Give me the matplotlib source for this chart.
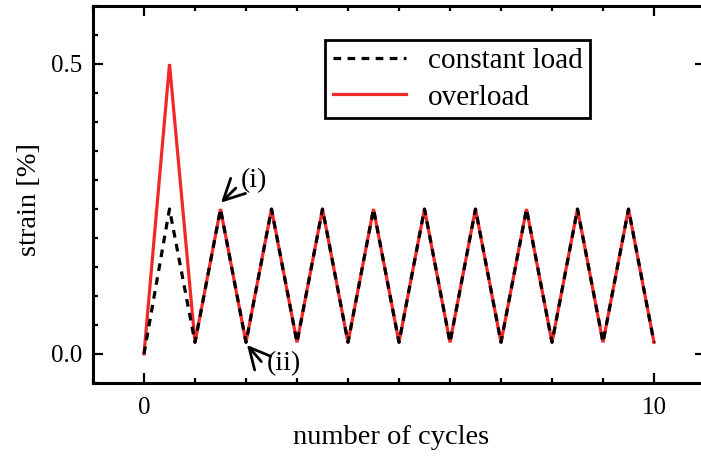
import matplotlib
matplotlib.use("Agg")
import matplotlib.pyplot as plt
from matplotlib.ticker import MultipleLocator, FixedLocator

# ---- data ----
cycles = [0.0, 0.5, 1.0, 1.5, 2.0, 2.5, 3.0, 3.5, 4.0, 4.5, 5.0,
          5.5, 6.0, 6.5, 7.0, 7.5, 8.0, 8.5, 9.0, 9.5, 10.0]
constant_load = [0.0, 0.25, 0.02, 0.25, 0.02, 0.25, 0.02, 0.25, 0.02, 0.25, 0.02,
                 0.25, 0.02, 0.25, 0.02, 0.25, 0.02, 0.25, 0.02, 0.25, 0.02]
overload = [0.0, 0.50, 0.02, 0.25, 0.02, 0.25, 0.02, 0.25, 0.02, 0.25, 0.02,
            0.25, 0.02, 0.25, 0.02, 0.25, 0.02, 0.25, 0.02, 0.25, 0.02]
xticks_major = [0, 10]
yticks_major = [0.0, 0.5]
ytick_labels = ["0.0", "0.5"]
series_labels = ["constant load", "overload"]

plt.rcParams['font.family'] = ['Liberation Serif', 'DejaVu Serif']
plt.rcParams['mathtext.fontset'] = 'stix'

fig = plt.figure(figsize=(7.01, 4.57), dpi=100)
ax = fig.add_axes([93/701, 1 - 383/457, (705 - 93)/701, (383 - 6)/457])

red = '#f02828'
ax.plot(cycles, overload, color=red, lw=2.3, label=series_labels[1], zorder=2,
        solid_joinstyle='miter')
ax.plot(cycles, constant_load, color='black', lw=2.3, dashes=(2.4, 2.0),
        label=series_labels[0], zorder=3)

ax.set_xlim(-1, 11)
ax.set_ylim(-0.05, 0.6)

ax.xaxis.set_major_locator(FixedLocator(xticks_major))
ax.xaxis.set_minor_locator(MultipleLocator(1))
ax.yaxis.set_major_locator(FixedLocator(yticks_major))
ax.set_yticklabels(ytick_labels)
ax.yaxis.set_minor_locator(MultipleLocator(0.05))

ax.tick_params(which='both', direction='in', top=True, right=True, width=1.6,
               labelsize=18)
ax.tick_params(which='major', length=7.5)
ax.tick_params(which='minor', length=3.5)
ax.tick_params(axis='y', which='minor', right=False)
ax.tick_params(axis='x', which='major', pad=10)
ax.tick_params(axis='y', which='major', pad=8)
for s in ax.spines.values():
    s.set_linewidth(2.2)

ax.set_xlabel('number of cycles', fontsize=20.5)
ax.set_ylabel('strain [%]', fontsize=20.5)
ax.xaxis.set_label_coords((391 - 93) / 612, (383 - 437) / 377)
ax.yaxis.set_label_coords((30 - 93) / 612, (383 - 200) / 377)
ax.xaxis.label.set_va('center')
ax.yaxis.label.set_va('center')

handles, labels = ax.get_legend_handles_labels()
leg = ax.legend(handles[::-1], labels[::-1], loc='upper left',
                bbox_to_anchor=(0.379, 0.91), borderaxespad=0, fontsize=21,
                fancybox=False, framealpha=1, edgecolor='black',
                handlelength=2.5, handletextpad=0.75, labelspacing=0.34,
                borderpad=0.27)
leg.get_frame().set_linewidth(2.0)

arrow = dict(arrowstyle='->,head_length=0.75,head_width=0.38', lw=2.0,
             color='black', shrinkA=0, shrinkB=0, mutation_scale=20)
ax.annotate('', xy=(1.51, 0.261), xytext=(1.80, 0.286), arrowprops=arrow)
ax.annotate('', xy=(2.02, 0.0155), xytext=(2.30, -0.013), arrowprops=arrow)
ax.text(2.16, 0.299, '(i)', fontsize=20, ha='center', va='center')
ax.text(2.74, -0.017, '(ii)', fontsize=20, ha='center', va='center')

fig.savefig('out.png', dpi=100)
